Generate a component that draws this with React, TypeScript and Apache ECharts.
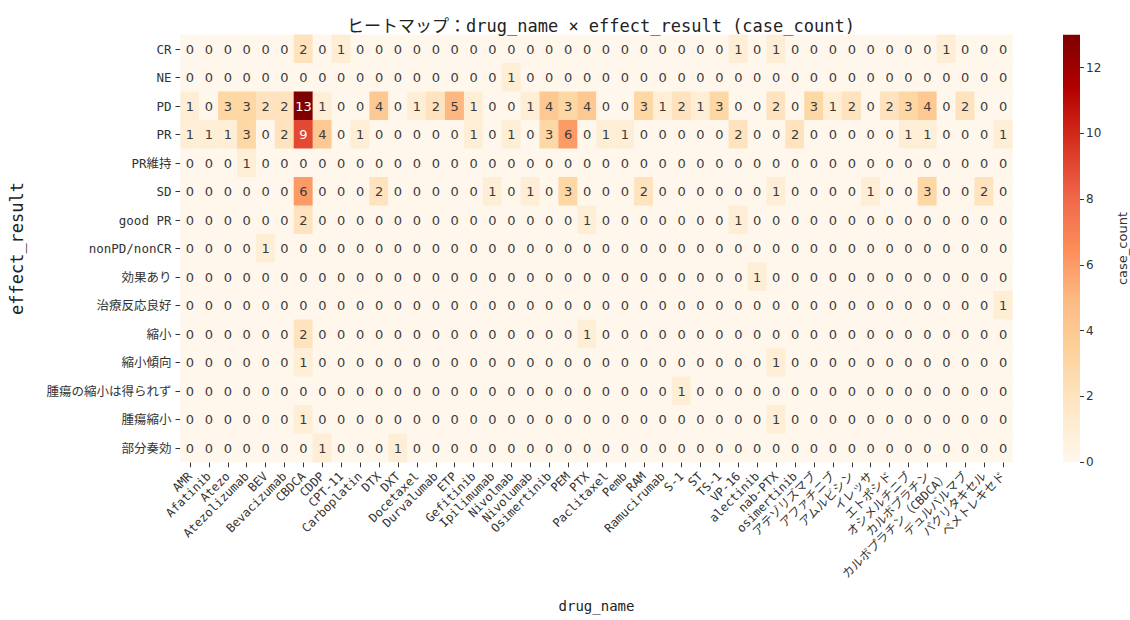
import React, { useEffect, useRef } from "react";
import * as echarts from "echarts";

const drugNames = [
  "AMR", "Afatinib", "Atezo", "Atezolizumab", "BEV", "Bevacizumab", "CBDCA", "CDDP", "CPT-11", "Carboplatin",
  "DTX", "DXT", "Docetaxel", "Durvalumab", "ETP", "Gefitinib", "Ipilimumab", "Nivolmab", "Nivolumab", "Osimertinib",
  "PEM", "PTX", "Paclitaxel", "Pemb", "RAM", "Ramucirumab", "S-1", "ST", "TS-1", "VP-16",
  "alectinib", "nab-PTX", "osimertinib", "アテゾリズマブ", "アファチニブ", "アムルビシン", "イレッサ", "エトポシド", "オシメルチニブ", "カルボプラチン",
  "カルボプラチン（CBDCA）", "デュルバルマブ", "パクリタキセル", "ペメトレキセド",
];

const effectResults = [
  "CR", "NE", "PD", "PR", "PR維持", "SD", "good PR", "nonPD/nonCR", "効果あり", "治療反応良好",
  "縮小", "縮小傾向", "腫瘍の縮小は得られず", "腫瘍縮小", "部分奏効",
];

// case_count per effect_result row, one value per drug_name column
const rowCR = [0,0,0,0,0,0,2,0,1,0, 0,0,0,0,0,0,0,0,0,0, 0,0,0,0,0,0,0,0,0,1, 0,1,0,0,0,0,0,0,0,0, 1,0,0,0];
const rowNE = [0,0,0,0,0,0,0,0,0,0, 0,0,0,0,0,0,0,1,0,0, 0,0,0,0,0,0,0,0,0,0, 0,0,0,0,0,0,0,0,0,0, 0,0,0,0];
const rowPD = [1,0,3,3,2,2,13,1,0,0, 4,0,1,2,5,1,0,0,1,4, 3,4,0,0,3,1,2,1,3,0, 0,2,0,3,1,2,0,2,3,4, 0,2,0,0];
const rowPR = [1,1,1,3,0,2,9,4,0,1, 0,0,0,0,0,1,0,1,0,3, 6,0,1,1,0,0,0,0,0,2, 0,0,2,0,0,0,0,0,1,1, 0,0,0,1];
const rowPRMaintain = [0,0,0,1,0,0,0,0,0,0, 0,0,0,0,0,0,0,0,0,0, 0,0,0,0,0,0,0,0,0,0, 0,0,0,0,0,0,0,0,0,0, 0,0,0,0];
const rowSD = [0,0,0,0,0,0,6,0,0,0, 2,0,0,0,0,0,1,0,1,0, 3,0,0,0,2,0,0,0,0,0, 0,1,0,0,0,0,1,0,0,3, 0,0,2,0];
const rowGoodPR = [0,0,0,0,0,0,2,0,0,0, 0,0,0,0,0,0,0,0,0,0, 0,1,0,0,0,0,0,0,0,1, 0,0,0,0,0,0,0,0,0,0, 0,0,0,0];
const rowNonPDNonCR = [0,0,0,0,1,0,0,0,0,0, 0,0,0,0,0,0,0,0,0,0, 0,0,0,0,0,0,0,0,0,0, 0,0,0,0,0,0,0,0,0,0, 0,0,0,0];
const rowEffective = [0,0,0,0,0,0,0,0,0,0, 0,0,0,0,0,0,0,0,0,0, 0,0,0,0,0,0,0,0,0,0, 1,0,0,0,0,0,0,0,0,0, 0,0,0,0];
const rowGoodResponse = [0,0,0,0,0,0,0,0,0,0, 0,0,0,0,0,0,0,0,0,0, 0,0,0,0,0,0,0,0,0,0, 0,0,0,0,0,0,0,0,0,0, 0,0,0,1];
const rowShrink = [0,0,0,0,0,0,2,0,0,0, 0,0,0,0,0,0,0,0,0,0, 0,1,0,0,0,0,0,0,0,0, 0,0,0,0,0,0,0,0,0,0, 0,0,0,0];
const rowShrinkTrend = [0,0,0,0,0,0,1,0,0,0, 0,0,0,0,0,0,0,0,0,0, 0,0,0,0,0,0,0,0,0,0, 0,1,0,0,0,0,0,0,0,0, 0,0,0,0];
const rowNoShrink = [0,0,0,0,0,0,0,0,0,0, 0,0,0,0,0,0,0,0,0,0, 0,0,0,0,0,0,1,0,0,0, 0,0,0,0,0,0,0,0,0,0, 0,0,0,0];
const rowTumorShrink = [0,0,0,0,0,0,1,0,0,0, 0,0,0,0,0,0,0,0,0,0, 0,0,0,0,0,0,0,0,0,0, 0,1,0,0,0,0,0,0,0,0, 0,0,0,0];
const rowPartial = [0,0,0,0,0,0,0,1,0,0, 0,1,0,0,0,0,0,0,0,0, 0,0,0,0,0,0,0,0,0,0, 0,0,0,0,0,0,0,0,0,0, 0,0,0,0];

const colorbarTicks = [0, 2, 4, 6, 8, 10, 12];
const colorMin = 0;
const colorMax = 13;
const orRd = ["#fff7ec", "#fee8c8", "#fdd49e", "#fdbb84", "#fc8d59", "#ef6548", "#d7301f", "#b30000", "#7f0000"];

const monoJP = "'DejaVu Sans Mono', 'Noto Sans CJK JP', sans-serif";
const sans = "'DejaVu Sans', 'Noto Sans CJK JP', sans-serif";

export default function App() {
  const ref = useRef<HTMLDivElement>(null);

  useEffect(() => {
    if (!ref.current) return;
    const chart = echarts.init(ref.current, null, { renderer: "svg" });
    const rows = [
      rowCR, rowNE, rowPD, rowPR, rowPRMaintain, rowSD, rowGoodPR, rowNonPDNonCR,
      rowEffective, rowGoodResponse, rowShrink, rowShrinkTrend, rowNoShrink, rowTumorShrink, rowPartial,
    ];
    const data: any[] = [];
    rows.forEach((row, y) => {
      row.forEach((v, x) => {
        data.push({ value: [x, y, v], label: { color: v >= 8 ? "#ffffff" : "#3c3c3c" } });
      });
    });

    const gridTop = 34.75;
    const gridHeight = 427.5;

    const option: any = {
      animation: false,
      backgroundColor: "#ffffff",
      title: {
        text: "ヒートマップ：drug_name × effect_result (case_count)",
        left: 596,
        top: 12,
        textAlign: "center",
        textStyle: { fontSize: 17, fontWeight: "normal", color: "#222", fontFamily: monoJP },
      },
      grid: [
        { left: 180.5, top: gridTop, width: 832, height: gridHeight },
        { left: 1063, top: gridTop, width: 22, height: gridHeight },
      ],
      xAxis: [
        {
          type: "category",
          gridIndex: 0,
          data: drugNames,
          axisLine: { show: false },
          axisTick: { show: true, alignWithLabel: true, length: 5, lineStyle: { color: "#333" } },
          axisLabel: { interval: 0, rotate: 45, fontSize: 12, margin: 12, color: "#333", fontFamily: monoJP },
          splitLine: { show: false },
          name: "drug_name",
          nameLocation: "middle",
          nameGap: 137,
          nameTextStyle: { fontSize: 14, color: "#222", fontFamily: monoJP },
        },
        { type: "category", gridIndex: 1, data: ["case_count"], show: false },
      ],
      yAxis: [
        {
          type: "category",
          gridIndex: 0,
          data: effectResults,
          inverse: true,
          axisLine: { show: false },
          axisTick: { show: true, alignWithLabel: true, length: 5, lineStyle: { color: "#333" } },
          axisLabel: { interval: 0, fontSize: 12.5, margin: 9, color: "#333", fontFamily: monoJP },
          splitLine: { show: false },
          name: "effect_result",
          nameLocation: "middle",
          nameRotate: 90,
          nameGap: 155,
          nameTextStyle: { fontSize: 17, color: "#222", fontFamily: monoJP },
        },
        {
          type: "value",
          gridIndex: 1,
          position: "right",
          min: colorMin,
          max: colorMax,
          axisLine: { show: false },
          axisTick: { show: true, length: 4, customValues: colorbarTicks, lineStyle: { color: "#333" } },
          axisLabel: { customValues: colorbarTicks, fontSize: 12, margin: 6, color: "#333", fontFamily: sans },
          splitLine: { show: false },
          name: "case_count",
          nameLocation: "middle",
          nameRotate: 90,
          nameGap: 36,
          nameTextStyle: { fontSize: 13, color: "#333", fontFamily: sans },
        },
      ],
      visualMap: {
        show: false,
        min: colorMin,
        max: colorMax,
        dimension: 2,
        seriesIndex: 0,
        inRange: { color: orRd },
      },
      series: [
        {
          type: "heatmap",
          xAxisIndex: 0,
          yAxisIndex: 0,
          data,
          silent: true,
          label: {
            show: true,
            fontSize: 13,
            fontFamily: sans,
            formatter: (p: any) => String(p.value[2]),
          },
          emphasis: { disabled: true },
        },
        {
          type: "bar",
          xAxisIndex: 1,
          yAxisIndex: 1,
          data: [colorMax],
          barWidth: "100%",
          silent: true,
          itemStyle: {
            color: new echarts.graphic.LinearGradient(
              0, 1, 0, 0,
              orRd.map((c, i) => ({ offset: i / (orRd.length - 1), color: c }))
            ),
          },
        },
      ],
    };

    chart.setOption(option);
    return () => chart.dispose();
  }, []);

  return <div ref={ref} style={{ position: "absolute", left: 0, top: 0, width: 1130, height: 620 }} />;
}
